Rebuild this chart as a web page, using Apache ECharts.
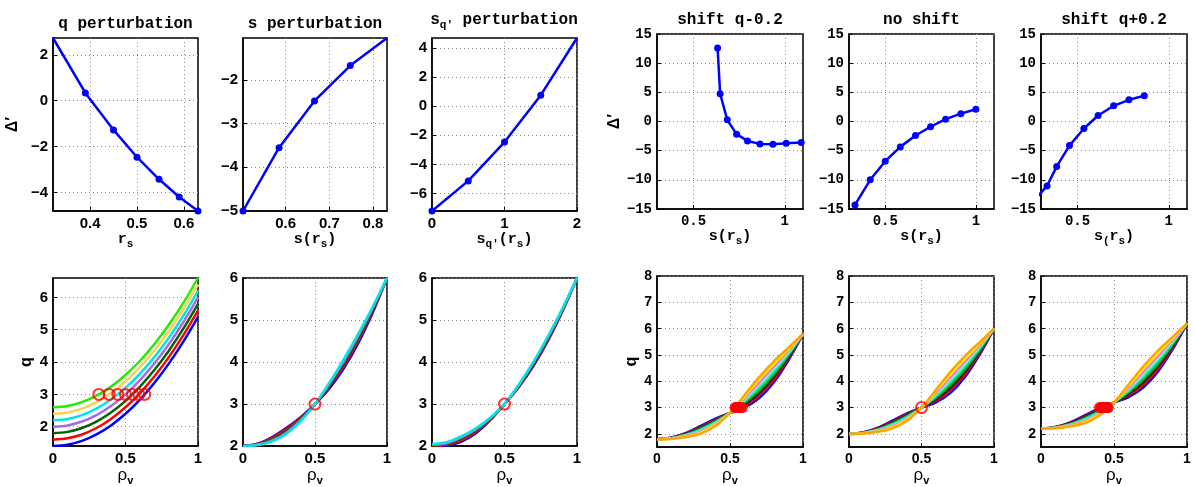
<!DOCTYPE html>
<html><head><meta charset="utf-8">
<script src="https://cdn.jsdelivr.net/npm/echarts@6/dist/echarts.min.js"></script>
<style>html,body{margin:0;padding:0;background:#fff}#c{width:1194px;height:487px}</style>
</head><body><div id="c"></div>
<script>
// ================= DATA =================
// Top row: Δ' versus the perturbed parameter
const qPert_rs   = [0.321, 0.390, 0.450, 0.500, 0.547, 0.590, 0.630];
const qPert_dp   = [2.73, 0.34, -1.27, -2.46, -3.42, -4.19, -4.80];
const sPert_s    = [0.5025, 0.585, 0.666, 0.748, 0.832];
const sPert_dp   = [-5.0, -3.55, -2.48, -1.67, -1.04];
const sqPert_sq  = [0, 0.5, 1, 1.5, 2];
const sqPert_dp  = [-7.2, -5.13, -2.46, 0.76, 4.69];
const shiftM_s   = [0.632, 0.646, 0.685, 0.736, 0.796, 0.864, 0.935, 1.008, 1.09];
const shiftM_dp  = [12.6, 4.75, 0.28, -2.17, -3.33, -3.84, -3.89, -3.72, -3.6];
const noShift_s  = [0.333, 0.417, 0.5, 0.583, 0.667, 0.75, 0.833, 0.917, 1.0];
const noShift_dp = [-14.3, -10.0, -6.8, -4.35, -2.4, -0.9, 0.4, 1.35, 2.1];
const shiftP_s   = [0.28, 0.333, 0.386, 0.456, 0.535, 0.613, 0.698, 0.782, 0.866];
const shiftP_dp  = [-12.9, -11.05, -7.7, -4.13, -1.2, 1.03, 2.69, 3.72, 4.41];

// Bottom row: q(rho_v) profiles, sampled at rho
const rho = [0, 0.1, 0.2, 0.3, 0.4, 0.5, 0.6, 0.7, 0.8, 0.9, 1];
const qPert_q = [
  [1.4, 1.44, 1.56, 1.76, 2.04, 2.4, 2.84, 3.36, 3.96, 4.64, 5.4],
  [1.6, 1.64, 1.76, 1.96, 2.24, 2.6, 3.04, 3.56, 4.16, 4.84, 5.6],
  [1.8, 1.84, 1.96, 2.16, 2.44, 2.8, 3.24, 3.76, 4.36, 5.04, 5.8],
  [2.0, 2.04, 2.16, 2.36, 2.64, 3.0, 3.44, 3.96, 4.56, 5.24, 6.0],
  [2.2, 2.24, 2.36, 2.56, 2.84, 3.2, 3.64, 4.16, 4.76, 5.44, 6.2],
  [2.4, 2.44, 2.56, 2.76, 3.04, 3.4, 3.84, 4.36, 4.96, 5.64, 6.4],
  [2.6, 2.64, 2.76, 2.96, 3.24, 3.6, 4.04, 4.56, 5.16, 5.84, 6.6]
];
const qPert_cross = [0.632, 0.592, 0.548, 0.5, 0.447, 0.387, 0.316];
const sPert_q = [
  [2, 2.055, 2.21, 2.43, 2.69, 3, 3.37, 3.85, 4.45, 5.17, 6],
  [2, 2.05, 2.19, 2.40, 2.67, 3, 3.41, 3.91, 4.51, 5.21, 6],
  [2, 2.04, 2.16, 2.36, 2.64, 3, 3.44, 3.96, 4.56, 5.24, 6],
  [2, 2.03, 2.13, 2.32, 2.61, 3, 3.48, 4.02, 4.62, 5.28, 6],
  [2, 2.025, 2.11, 2.29, 2.59, 3, 3.51, 4.07, 4.67, 5.31, 6]
];
const sqPert_q = [
  [2.0, 2.01, 2.10, 2.30, 2.61, 3, 3.41, 3.91, 4.51, 5.21, 6],
  [2.01, 2.03, 2.13, 2.33, 2.63, 3, 3.42, 3.94, 4.54, 5.23, 6],
  [2.02, 2.05, 2.17, 2.36, 2.64, 3, 3.44, 3.96, 4.56, 5.24, 6],
  [2.04, 2.07, 2.20, 2.39, 2.66, 3, 3.46, 3.99, 4.59, 5.26, 6],
  [2.05, 2.09, 2.23, 2.42, 2.67, 3, 3.47, 4.01, 4.62, 5.28, 6]
];
const single_cross = [0.5];
const shiftM_q = [
  [1.8, 1.865, 2.04, 2.31, 2.58, 2.8, 3.0, 3.36, 3.96, 4.8, 5.8],
  [1.8, 1.86, 2.02, 2.27, 2.545, 2.8, 3.06, 3.46, 4.06, 4.86, 5.8],
  [1.8, 1.85, 2.0, 2.235, 2.51, 2.8, 3.12, 3.56, 4.16, 4.92, 5.8],
  [1.8, 1.845, 1.98, 2.2, 2.475, 2.8, 3.18, 3.66, 4.26, 4.98, 5.8],
  [1.8, 1.84, 1.96, 2.16, 2.44, 2.8, 3.24, 3.76, 4.36, 5.04, 5.8],
  [1.8, 1.835, 1.94, 2.12, 2.405, 2.8, 3.3, 3.86, 4.46, 5.1, 5.8],
  [1.8, 1.83, 1.92, 2.085, 2.37, 2.8, 3.36, 3.96, 4.56, 5.16, 5.8],
  [1.8, 1.82, 1.9, 2.05, 2.335, 2.8, 3.42, 4.06, 4.66, 5.22, 5.8],
  [1.8, 1.815, 1.88, 2.01, 2.3, 2.8, 3.48, 4.16, 4.76, 5.28, 5.8]
];
const shiftM_cross = [0.585, 0.575, 0.565, 0.56, 0.555, 0.55, 0.545, 0.54, 0.535];
const noShift_q = [
  [2, 2.065, 2.24, 2.51, 2.78, 3, 3.20, 3.56, 4.16, 5.00, 6],
  [2, 2.06, 2.22, 2.47, 2.745, 3, 3.26, 3.66, 4.26, 5.06, 6],
  [2, 2.05, 2.20, 2.435, 2.71, 3, 3.32, 3.76, 4.36, 5.12, 6],
  [2, 2.045, 2.18, 2.40, 2.675, 3, 3.38, 3.86, 4.46, 5.18, 6],
  [2, 2.04, 2.16, 2.36, 2.64, 3, 3.44, 3.96, 4.56, 5.24, 6],
  [2, 2.035, 2.14, 2.32, 2.605, 3, 3.50, 4.06, 4.66, 5.30, 6],
  [2, 2.03, 2.12, 2.285, 2.57, 3, 3.56, 4.16, 4.76, 5.36, 6],
  [2, 2.02, 2.10, 2.25, 2.535, 3, 3.62, 4.26, 4.86, 5.42, 6],
  [2, 2.015, 2.08, 2.21, 2.50, 3, 3.68, 4.36, 4.96, 5.48, 6]
];
const shiftP_q = [
  [2.2, 2.265, 2.44, 2.71, 2.98, 3.2, 3.4, 3.76, 4.36, 5.2, 6.2],
  [2.2, 2.26, 2.42, 2.67, 2.945, 3.2, 3.46, 3.86, 4.46, 5.26, 6.2],
  [2.2, 2.25, 2.4, 2.635, 2.91, 3.2, 3.52, 3.96, 4.56, 5.32, 6.2],
  [2.2, 2.245, 2.38, 2.6, 2.875, 3.2, 3.58, 4.06, 4.66, 5.38, 6.2],
  [2.2, 2.24, 2.36, 2.56, 2.84, 3.2, 3.64, 4.16, 4.76, 5.44, 6.2],
  [2.2, 2.235, 2.34, 2.52, 2.805, 3.2, 3.7, 4.26, 4.86, 5.5, 6.2],
  [2.2, 2.23, 2.32, 2.485, 2.77, 3.2, 3.76, 4.36, 4.96, 5.56, 6.2],
  [2.2, 2.22, 2.3, 2.45, 2.735, 3.2, 3.82, 4.46, 5.06, 5.62, 6.2],
  [2.2, 2.215, 2.28, 2.41, 2.7, 3.2, 3.88, 4.56, 5.16, 5.68, 6.2]
];
const shiftP_cross = [0.40, 0.41, 0.42, 0.43, 0.44, 0.445, 0.45, 0.455, 0.46];
const qCross = 3;

// Tick labels
const ticks_rs   = [0.4, 0.5, 0.6];
const ticks_dp1  = [-4, -2, 0, 2];
const ticks_s    = [0.6, 0.7, 0.8];
const ticks_dp2  = [-5, -4, -3, -2];
const ticks_sq   = [0, 1, 2];
const ticks_dp3  = [-6, -4, -2, 0, 2, 4];
const ticks_sR   = [0.5, 1];
const ticks_dpR  = [-15, -10, -5, 0, 5, 10, 15];
const ticks_rho  = [0, 0.5, 1];
const ticks_q1   = [2, 3, 4, 5, 6];
const ticks_qR   = [2, 3, 4, 5, 6, 7, 8];

// ================= LAYOUT / STYLE =================
const MONO = 'Liberation Mono', SANS = 'Liberation Sans';
const panels = [
  {l:53,  t:38,  w:145, h:173, xr:[0.321,0.63], xt:ticks_rs, yr:[-4.8,2.73], yt:ticks_dp1, font:SANS, fs:15},
  {l:243, t:38,  w:144, h:173, xr:[0.5025,0.832], xt:ticks_s, yr:[-5,-1.04], yt:ticks_dp2, font:SANS, fs:15},
  {l:432, t:38,  w:145, h:173, xr:[0,2], xt:ticks_sq, yr:[-7.2,4.69], yt:ticks_dp3, font:SANS, fs:15},
  {l:657, t:34,  w:146, h:175, xr:[0.3,1.1], xt:ticks_sR, yr:[-15,15], yt:ticks_dpR, font:MONO, fs:14},
  {l:849, t:34,  w:145, h:175, xr:[0.3,1.1], xt:ticks_sR, yr:[-15,15], yt:ticks_dpR, font:MONO, fs:14},
  {l:1041,t:34,  w:146, h:175, xr:[0.3,1.1], xt:ticks_sR, yr:[-15,15], yt:ticks_dpR, font:MONO, fs:14},
  {l:53,  t:278, w:145, h:172, xr:[0,1], xt:ticks_rho, yr:[1.4,6.6], yt:ticks_q1, font:SANS, fs:15},
  {l:243, t:278, w:144, h:172, xr:[0,1], xt:ticks_rho, yr:[2,6], yt:ticks_q1, font:SANS, fs:15},
  {l:432, t:278, w:145, h:172, xr:[0,1], xt:ticks_rho, yr:[2,6], yt:ticks_q1, font:SANS, fs:15},
  {l:657, t:276, w:146, h:174, xr:[0,1], xt:ticks_rho, yr:[1.5,8], yt:ticks_qR, font:SANS, fs:14},
  {l:849, t:276, w:145, h:174, xr:[0,1], xt:ticks_rho, yr:[1.5,8], yt:ticks_qR, font:SANS, fs:14},
  {l:1041,t:276, w:146, h:174, xr:[0,1], xt:ticks_rho, yr:[1.5,8], yt:ticks_qR, font:SANS, fs:14}
];
const rich = {
  m:  {fontFamily: MONO, fontWeight: 'bold', fontSize: 15, color: '#000'},
  ms: {fontFamily: MONO, fontWeight: 'bold', fontSize: 11, color: '#000', padding: [10,0,0,0]},
  g:  {fontFamily: SANS, fontSize: 17, color: '#000'},
  gs: {fontFamily: SANS, fontWeight: 'bold', fontSize: 11, color: '#000', padding: [10,0,0,0]},
  d:  {fontFamily: SANS, fontWeight: 'bold', fontSize: 16, color: '#000'},
  q:  {fontFamily: MONO, fontWeight: 'bold', fontSize: 17, color: '#000'}
};
const xNames = [
  '{m|r}{ms|s}', '{m|s(r}{ms|s}{m|)}', '{m|s}{ms|q′}{m|(r}{ms|s}{m|)}',
  '{m|s(r}{ms|s}{m|)}', '{m|s(r}{ms|s}{m|)}', '{m|s}{ms|(}{m|r}{ms|s}{m|)}',
  '{g|ρ}{gs|v}', '{g|ρ}{gs|v}', '{g|ρ}{gs|v}', '{g|ρ}{gs|v}', '{g|ρ}{gs|v}', '{g|ρ}{gs|v}'
];
const yNames = {0: ['{d|Δ′}', 32], 3: ['{d|Δ′}', 33], 6: ['{q|q}', 18], 9: ['{q|q}', 17]};
const xNameGap = [17,17,17,17,17,17,17,17,17,17,17,17];

const titles = [
  {text: '{t|q perturbation}', cx: 125.5, top: 16},
  {text: '{t|s perturbation}', cx: 315, top: 16},
  {text: '{t|s}{ts|q′}{t| perturbation}', cx: 504, top: 9},
  {text: '{t|shift q-0.2}', cx: 730, top: 12},
  {text: '{t|no shift}', cx: 921.5, top: 12},
  {text: '{t|shift q+0.2}', cx: 1114, top: 12}
];
const titleRich = {
  t:  {fontFamily: MONO, fontWeight: 'bold', fontSize: 16, color: '#000'},
  ts: {fontFamily: MONO, fontWeight: 'bold', fontSize: 11, color: '#000', padding: [11,0,0,0]}
};

const BLUE = '#0000ff';
const qPertColors  = ['#0000ff', '#ff0000', '#006400', '#a66be6', '#00e5e5', '#ffd24d', '#22ee00'];
const sPertColors  = ['#0000ff', '#ff0000', '#006400', '#a66be6', '#00e5e5'];
const shiftColors  = ['#0000ff', '#ee0000', '#202020', '#00b000', '#00e0e0', '#80ff80', '#ff66ff', '#ffee00', '#ffa500'];

const fmt = v => String(v).replace('-', '−');

// ================= BUILD =================
const grid = panels.map(p => ({left: p.l, top: p.t, width: p.w, height: p.h, show: true,
  borderColor: '#000', borderWidth: 1.5, backgroundColor: '#fff'}));

const splitStyle = {show: true, lineStyle: {color: '#8a8a8a', width: 1, type: [1, 3]}};
const xAxis = panels.map((p, i) => ({
  type: 'value', gridIndex: i, min: p.xr[0], max: p.xr[1],
  axisLine: {show: true, onZero: false, lineStyle: {color: '#000', width: 1.5}},
  axisTick: {show: true, inside: true, length: 4, customValues: p.xt, lineStyle: {color: '#000', width: 1}},
  axisLabel: {show: true, customValues: p.xt, formatter: fmt, fontFamily: p.font, fontWeight: 'bold',
              fontSize: p.fs, color: '#000', margin: 5},
  splitLine: splitStyle,
  name: xNames[i], nameLocation: 'middle', nameGap: xNameGap[i],
  nameTextStyle: {rich: rich}
}));
const yAxis = panels.map((p, i) => {
  const a = {
    type: 'value', gridIndex: i, min: p.yr[0], max: p.yr[1],
    axisLine: {show: true, onZero: false, lineStyle: {color: '#000', width: 1.5}},
    axisTick: {show: true, inside: true, length: 4, customValues: p.yt, lineStyle: {color: '#000', width: 1}},
    axisLabel: {show: true, customValues: p.yt, formatter: fmt, fontFamily: p.font, fontWeight: 'bold',
                fontSize: p.fs, color: '#000', margin: 5},
    splitLine: splitStyle
  };
  if (yNames[i]) {
    a.name = yNames[i][0]; a.nameLocation = 'middle'; a.nameRotate = 90; a.nameGap = yNames[i][1];
    a.nameTextStyle = {rich: rich};
  }
  return a;
});

const series = [];
function deltaLine(i, xs, ys, hideIdx) {
  series.push({
    type: 'line', xAxisIndex: i, yAxisIndex: i, silent: true, animation: false,
    symbol: 'circle', symbolSize: 7, showSymbol: true, clip: true,
    lineStyle: {color: BLUE, width: 2.5}, itemStyle: {color: BLUE},
    data: xs.map((x, k) => k === hideIdx ? {value: [x, ys[k]], symbol: 'none'} : [x, ys[k]]),
    z: 3
  });
}
deltaLine(0, qPert_rs, qPert_dp, 0);
deltaLine(1, sPert_s, sPert_dp, sPert_s.length - 1);
deltaLine(2, sqPert_sq, sqPert_dp, sqPert_sq.length - 1);
deltaLine(3, shiftM_s, shiftM_dp, -1);
deltaLine(4, noShift_s, noShift_dp, -1);
deltaLine(5, shiftP_s, shiftP_dp, -1);

function profiles(i, curves, colors, width) {
  curves.forEach((c, k) => series.push({
    type: 'line', xAxisIndex: i, yAxisIndex: i, silent: true, animation: false,
    showSymbol: false, smooth: 0.35, clip: true,
    lineStyle: {color: colors[k], width: width},
    data: rho.map((x, j) => [x, c[j]]), z: 2
  }));
}
function crossMarks(i, xs, filled) {
  series.push({
    type: 'scatter', xAxisIndex: i, yAxisIndex: i, silent: true, animation: false,
    symbol: 'circle', symbolSize: 11,
    itemStyle: filled ? {color: '#ff0000'} : {color: 'rgba(0,0,0,0)', borderColor: '#ff0000', borderWidth: 2},
    data: xs.map(x => [x, qCross]), z: 4
  });
}
profiles(6, qPert_q, qPertColors, 2.5);
crossMarks(6, qPert_cross, false);
profiles(7, sPert_q, sPertColors, 2.5);
crossMarks(7, single_cross, false);
profiles(8, sqPert_q, sPertColors, 2.5);
crossMarks(8, single_cross, false);
profiles(9, shiftM_q, shiftColors, 2.5);
crossMarks(9, shiftM_cross, true);
profiles(10, noShift_q, shiftColors, 2.5);
crossMarks(10, single_cross, false);
profiles(11, shiftP_q, shiftColors, 2.5);
crossMarks(11, shiftP_cross, true);

const title = titles.map(t => ({
  text: t.text, left: t.cx, top: t.top, textAlign: 'center', padding: 0,
  textStyle: {rich: titleRich}
}));

const chart = echarts.init(document.getElementById('c'), null, {renderer: 'canvas'});
chart.setOption({animation: false, backgroundColor: '#fff', title, grid, xAxis, yAxis, series});
</script></body></html>
